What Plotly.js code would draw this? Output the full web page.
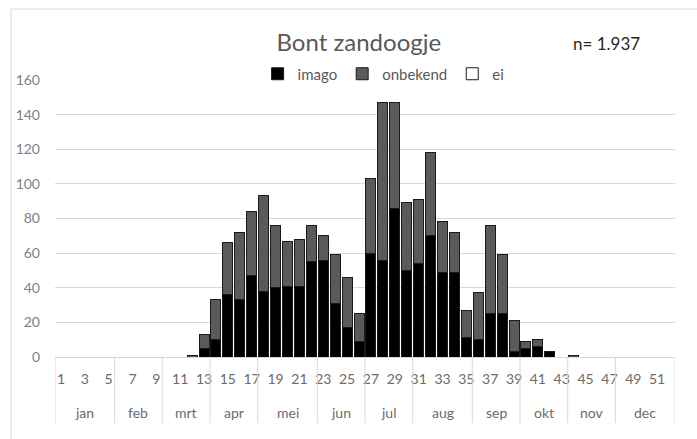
<!DOCTYPE html>
<html>
<head>
<meta charset="utf-8">
<script src="https://cdn.plot.ly/plotly-3.0.1.min.js"></script>
<style>html,body{margin:0;padding:0;background:#fff;}#chart{width:697px;height:439px;}</style>
</head>
<body>
<div id="chart"></div>
<script>
// ---- data ----
const weeks = [1,2,3,4,5,6,7,8,9,10,11,12,13,14,15,16,17,18,19,20,21,22,23,24,25,26,
               27,28,29,30,31,32,33,34,35,36,37,38,39,40,41,42,43,44,45,46,47,48,49,50,51,52];
const imago = [0,0,0,0,0,0,0,0,0,0,0,0,5,10,36,33,47,38,40,41,41,55,56,31,17,9,
               60,56,86,50,54,70,49,49,11,10,25,25,3,5,6,3,0,0,0,0,0,0,0,0,0,0];
const onbekend = [0,0,0,0,0,0,0,0,0,0,0,1,8,23,30,39,37,55,36,26,27,21,14,28,29,16,
                  43,91,61,39,37,48,29,23,16,27,51,34,18,4,4,0,0,1,0,0,0,0,0,0,0,0];
const ei = [0,0,0,0,0,0,0,0,0,0,0,0,0,0,0,0,0,0,0,0,0,0,0,0,0,0,
            0,0,0,0,0,0,0,0,0,0,0,0,0,0,0,0,0,0,0,0,0,0,0,0,0,0];
const weekTickVals = [1,3,5,7,9,11,13,15,17,19,21,23,25,27,29,31,33,35,37,39,41,43,45,47,49,51];
const months = ['jan','feb','mrt','apr','mei','jun','jul','aug','sep','okt','nov','dec'];
const monthWeekCounts = [5,4,4,4,5,4,4,5,4,4,4,5];
const chartTitle = 'Bont zandoogje';
const nLabel = 'n= 1.937';

// zero values are not drawn (avoid zero-height outlined bars)
const nz = a => a.map(v => v === 0 ? null : v);

const FONT = 'Lato, "Open Sans", sans-serif';
const outline = {color: '#1a1a1a', width: 1};

const traces = [
  {type: 'bar', name: 'imago', x: weeks, y: nz(imago), marker: {color: '#000000', line: outline}},
  {type: 'bar', name: 'onbekend', x: weeks, y: nz(onbekend), marker: {color: '#5a5a5a', line: outline}},
  {type: 'bar', name: 'ei', x: weeks, y: nz(ei), marker: {color: '#ffffff', line: outline}}
];

// month labels and dividers built from the month week counts
const annotations = [];
const shapes = [];
let start = 0.5;
shapes.push({type: 'line', xref: 'x', yref: 'paper', x0: start, x1: start, y0: 0, y1: -0.238,
             line: {color: '#d9d9d9', width: 1}});
months.forEach((m, i) => {
  const end = start + monthWeekCounts[i];
  annotations.push({text: m, xref: 'x', yref: 'paper', x: (start + end) / 2, y: -0.202,
                    showarrow: false, xanchor: 'center', yanchor: 'middle',
                    font: {family: FONT, size: 14, color: '#6b6b6b'}});
  shapes.push({type: 'line', xref: 'x', yref: 'paper', x0: end, x1: end, y0: 0, y1: -0.238,
               line: {color: '#d9d9d9', width: 1}});
  start = end;
});
annotations.push({text: nLabel, xref: 'paper', yref: 'paper', x: 0.889, y: 1.13,
                  showarrow: false, xanchor: 'center', yanchor: 'middle',
                  font: {family: FONT, size: 17, color: '#262626'}});
// light chart-area frame
shapes.push({type: 'rect', xref: 'paper', yref: 'paper', x0: -0.071, x1: 1.05, y0: -0.3, y1: 1.256,
             line: {color: '#d9d9d9', width: 1}, fillcolor: 'rgba(0,0,0,0)', layer: 'below'});

const layout = {
  width: 697, height: 439,
  margin: {l: 55, r: 22, t: 80, b: 82},
  paper_bgcolor: '#ffffff', plot_bgcolor: '#ffffff',
  font: {family: FONT, color: '#595959'},
  title: {text: chartTitle, x: 0.49, xref: 'paper', xanchor: 'center', y: 0.904, yref: 'container',
          yanchor: 'middle', font: {family: FONT, size: 24, color: '#595959'}},
  barmode: 'stack',
  bargap: 0.16,
  showlegend: true,
  legend: {orientation: 'h', x: 0.53, xanchor: 'center', y: 1.0217, yanchor: 'middle',
           font: {family: FONT, size: 15, color: '#595959'}, bgcolor: 'rgba(0,0,0,0)',
           traceorder: 'normal', itemwidth: 30},
  xaxis: {type: 'linear', range: [0.5, 52.5], tickmode: 'array', tickvals: weekTickVals,
          ticktext: weekTickVals.map(String), showgrid: false, zeroline: false,
          showline: true, linecolor: '#d9d9d9', linewidth: 1, ticks: '',
          ticklabelstandoff: 9, tickfont: {family: FONT, size: 14, color: '#6b6b6b'}, fixedrange: true},
  yaxis: {range: [0, 160], tickmode: 'linear', tick0: 0, dtick: 20, showgrid: true,
          gridcolor: '#d9d9d9', gridwidth: 1, zeroline: false, showline: false, ticks: '',
          ticklabelstandoff: 14, tickfont: {family: FONT, size: 14, color: '#7f7f7f'}, fixedrange: true},
  annotations: annotations,
  shapes: shapes
};

Plotly.newPlot('chart', traces, layout, {displayModeBar: false, staticPlot: true});
</script>
</body>
</html>
